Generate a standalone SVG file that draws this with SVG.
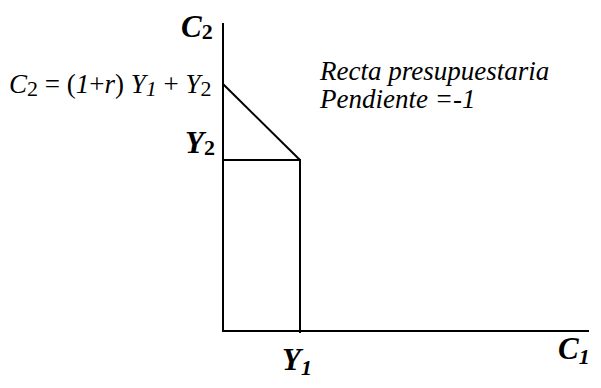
<svg xmlns="http://www.w3.org/2000/svg" width="601" height="388" viewBox="0 0 601 388">
<style>
text{font-family:"Liberation Serif","Times New Roman",serif;font-style:italic;fill:#000;font-size:27px}
.b{font-weight:bold;font-size:31px}
.s{font-size:22px}
.u{font-style:normal}
.ln{stroke:#000;stroke-width:2;fill:none}
</style>
<rect width="601" height="388" fill="#fff"/>
<g id="connectors">
<line class="ln" x1="223" y1="23" x2="223" y2="331"/>
<line class="ln" x1="222" y1="331" x2="589" y2="331"/>
<line class="ln" x1="223" y1="84" x2="300" y2="160"/>
<line class="ln" x1="223" y1="160" x2="301" y2="160"/>
<line class="ln" x1="300" y1="160" x2="300" y2="333"/>
</g>
<g id="label-c2-axis"><text class="b" x="181" y="37">C<tspan class="b s u" dy="2">2</tspan></text></g>
<g id="label-equation"><text x="9" y="93">C<tspan class="s u" dy="3">2</tspan><tspan class="u" dy="-3"> = (</tspan>1<tspan class="u">+</tspan>r<tspan class="u">) </tspan>Y<tspan class="s" dy="3">1</tspan><tspan class="u" dy="-3"> + </tspan>Y<tspan class="s u" dy="3">2</tspan></text></g>
<g id="label-recta"><text x="320" y="80">Recta presupuestaria</text><text x="320" y="108">Pendiente =-1</text></g>
<g id="label-y2"><text class="b" x="185" y="153">Y<tspan class="b s u" dy="2">2</tspan></text></g>
<g id="label-y1"><text class="b" x="282" y="370">Y<tspan class="b s" dy="5">1</tspan></text></g>
<g id="label-c1"><text class="b" x="558" y="359">C<tspan class="b s" dy="5">1</tspan></text></g>
</svg>
